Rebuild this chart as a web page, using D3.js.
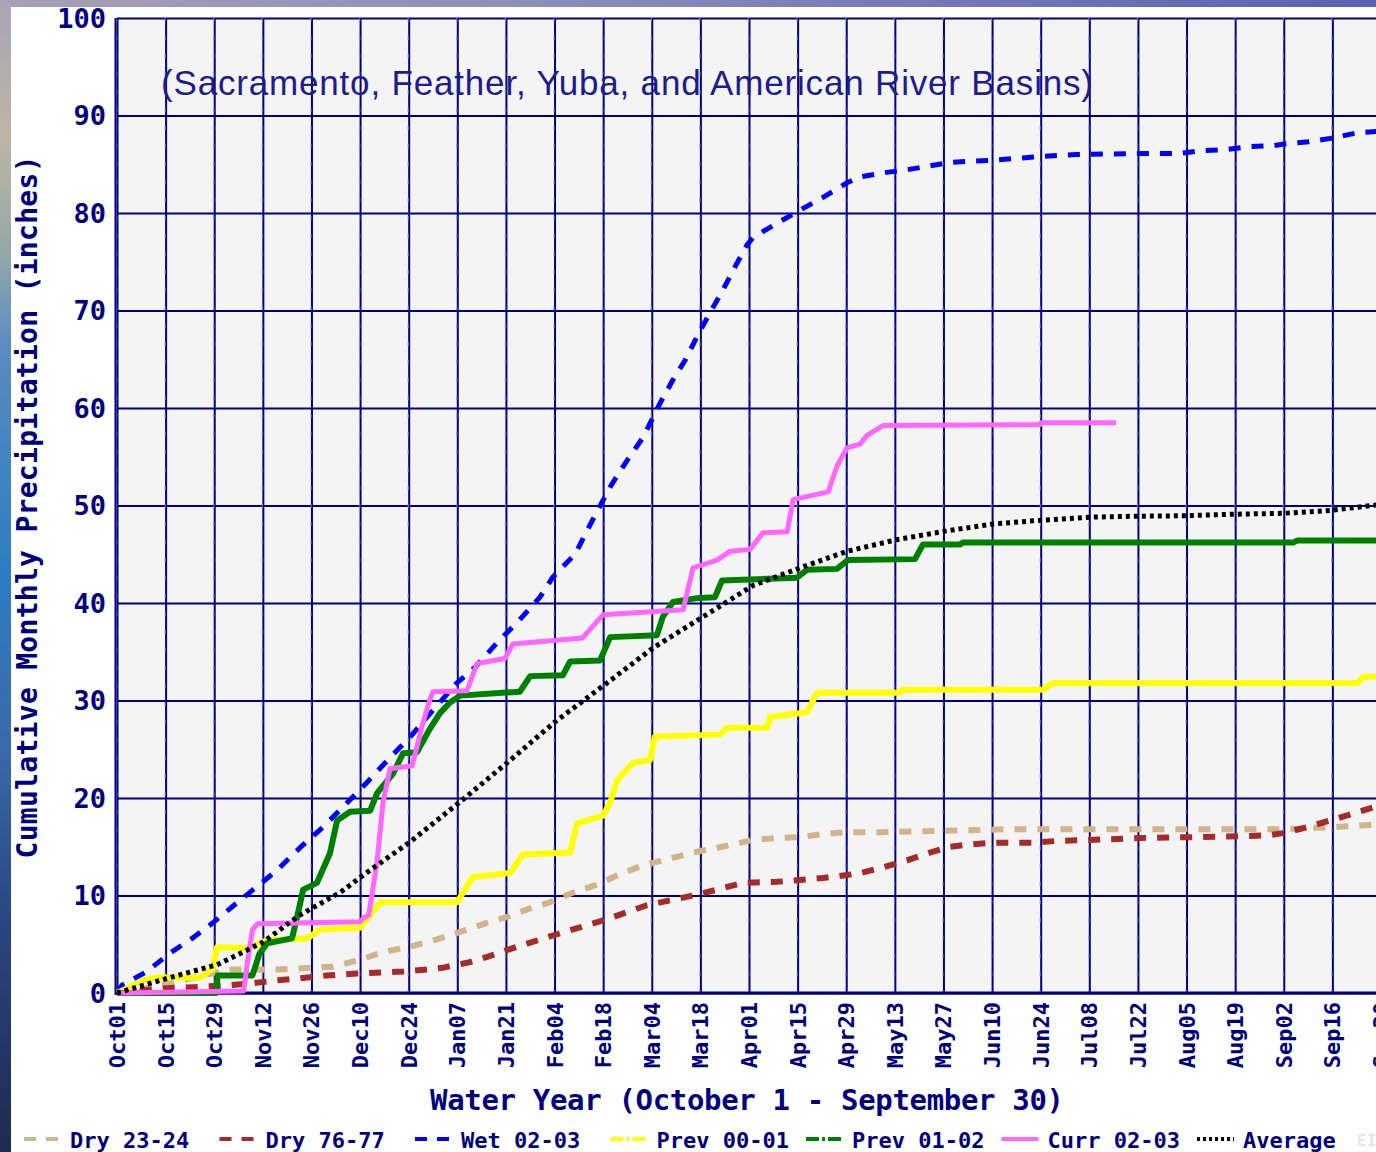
<!DOCTYPE html>
<html>
<head>
  <meta charset="utf-8">
  <style>
    body { margin: 0; background: #fff; }
    text { font-family: "DejaVu Sans Mono", monospace; font-weight: bold; fill: #000080; }
  </style>
</head>
<body>
<svg id="chart" width="1376" height="1152"></svg>
<script src="https://cdn.jsdelivr.net/npm/d3@7"></script>
<script>
// days since Oct 1, cumulative inches
var dryA_days = [0,6,15.3,29.7,33,46.1,62.2,70,76.6,82.4,89.3,93.9,100.8,107.4,112.3,119.8,124.7,131.3,138.2,144.3,151.5,159.3,165.9,172.8,179.4,183.2,190.1,196.7,203.3,210.2,220.6,257.2,335.8,349.3,364];
var dryA_vals = [0,0.3,1,2.2,2.4,2.4,2.7,3.4,4.2,4.6,5.2,5.7,6.5,7.3,7.8,8.8,9.3,10.3,11.1,12.1,13.1,13.8,14.4,14.9,15.4,15.7,15.9,16,16.3,16.5,16.5,16.8,16.8,17,17.3];

var dryB_days = [0,14.4,21.9,32.5,39.2,46.1,52.7,60.5,69.1,82.4,89.3,93.9,100.8,106.6,112.3,126.4,140.5,152.6,159.3,165.9,172.8,180.3,190.1,196.7,203.3,210.2,214,220.6,227.5,234.1,239.9,244.8,251.4,263.8,270.7,288,294.6,311.9,325.4,332,335.8,342.7,349.3,355,364];
var dryB_vals = [0,0.5,0.6,0.8,1,1.3,1.5,1.8,2,2.2,2.4,2.6,3.1,3.7,4.4,6,7.5,9,9.5,10,10.6,11.3,11.4,11.6,11.8,12.1,12.3,12.9,13.6,14.4,15,15.2,15.4,15.4,15.6,15.8,15.9,16,16.1,16.2,16.4,17,17.7,18.3,19.3];

var wet_days = [0,1.4,8.6,15.3,21.6,27.6,32,39.2,46.1,52.7,59.3,65.7,72,78,85,91,97.9,103.1,109.4,116,121.8,125.6,131.9,136.2,142,146.3,151.5,156.4,160.1,163.6,167,170.8,174.2,178,181.4,183.2,190.3,196.7,203.3,210.2,214,220.3,226.9,233.6,239.9,251.4,266.4,276.2,295.5,305.8,312.7,319.4,326,332.9,336.6,343.3,350.2,356.8,364];
var wet_vals = [0,0.8,2.2,4.1,5.6,7.2,8.5,10.6,12.6,14.9,17,19.3,21.6,23.9,26.5,29,31.8,33.4,35.9,38.3,40.6,42.7,45,48,51.9,54.3,57,60.5,62.9,64.9,67.3,69.8,71.9,74.5,76.7,77.5,79,80.3,81.6,83.1,83.7,84.1,84.4,84.8,85.2,85.4,85.8,86,86.1,86.1,86.4,86.5,86.8,86.9,87.1,87.3,87.7,88.2,88.4];

var prev1_days = [0,3,7.5,11.8,24,27.6,28.8,37.4,43.2,54.7,58.5,70,72.9,75.7,97.9,102.5,113.2,116.9,130.5,132.5,140,142,144,148.6,153.5,154.9,173.6,175.7,187.2,188.1,198.7,201.6,225.5,226.1,266.7,269.5,357.3,358.8,364];
var prev1_vals = [0,0.5,1.3,1.6,1.6,2.5,4.7,4.6,5.4,5.6,6.5,6.7,8,9.3,9.3,11.9,12.3,14.2,14.4,17.4,18.2,19.5,21.8,23.6,23.9,26.3,26.5,27.2,27.2,28.3,28.8,30.8,30.8,31.1,31.1,31.8,31.8,32.4,32.5];

var prev2_days = [0,28.5,29,39,41,43.2,50.4,52,53.6,57.6,61.3,63.4,67.1,72.9,74.9,79.5,82.4,86.4,90.1,93,95.9,98.8,116,119,128.4,130.5,139.1,142,155.5,157.2,160.1,167,172.2,174.2,195.8,198.7,207.3,210.5,229.8,232.1,242.8,243.6,338.7,339.8,364];
var prev2_vals = [0,0,1.8,1.8,4,5.1,5.6,8,10.6,11.3,14.3,17.7,18.6,18.7,20.5,22.5,24.6,24.7,27.1,28.7,29.8,30.5,30.9,32.5,32.6,34,34.1,36.5,36.7,38.6,40.1,40.5,40.6,42.3,42.6,43.4,43.5,44.4,44.5,46,46,46.2,46.2,46.4,46.4];

var curr_days = [0,36.5,37.5,39,40.5,70,71,72.5,74.9,76.6,78.6,85,87.8,90,91,100.8,103.7,111.7,114,134,140,163,165.9,172.8,176.5,182.3,186,193,194.7,204.8,207.3,210.2,214,216,220.6,265.8,266,287.7];
var curr_vals = [0,0.2,3,6.5,7.1,7.3,7.7,8,13.5,19.5,23,23.3,27.3,30,30.9,31,33.8,34.3,35.8,36.4,38.8,39.3,43.6,44.4,45.3,45.5,47.2,47.3,50.6,51.4,54,55.9,56.3,57.2,58.2,58.3,58.5,58.5];

var avg_days = [0,14.4,28.8,42,52.7,64.2,72.9,84.4,98.8,112.3,126.1,141.1,154.4,167.9,183.2,196.7,210.2,224.6,239,252.3,266.4,280.2,293.7,307,321.4,335.8,349.3,364];
var avg_vals = [0,1.5,2.9,5.2,8,10.3,12.6,15.5,19.6,23.6,27.8,31.8,35.4,38.4,41.8,43.6,45.3,46.5,47.4,48.1,48.5,48.8,48.9,48.95,49.1,49.2,49.5,50.1];

var seriesNames = ["Dry 23-24", "Dry 76-77", "Wet 02-03", "Prev 00-01", "Prev 01-02", "Curr 02-03", "Average"];
var yTicks = [0,10,20,30,40,50,60,70,80,90,100];

var series = [
  {name: seriesNames[0], days: dryA_days, vals: dryA_vals, color: "#d2b48c", w: 6, dash: "12,11", legDash: "12,10"},
  {name: seriesNames[1], days: dryB_days, vals: dryB_vals, color: "#a52a2a", w: 6, dash: "12,11", legDash: "12,10"},
  {name: seriesNames[2], days: wet_days, vals: wet_vals, color: "#0000ff", w: 5, dash: "12,11", legDash: "12,10"},
  {name: seriesNames[3], days: prev1_days, vals: prev1_vals, color: "#ffff00", w: 6, dash: null, legDash: "13,3,3,3"},
  {name: seriesNames[4], days: prev2_days, vals: prev2_vals, color: "#008000", w: 6, dash: null, legDash: "13,3,3,3"},
  {name: seriesNames[5], days: curr_days, vals: curr_vals, color: "#ff66ff", w: 5, dash: null, legDash: null},
  {name: seriesNames[6], days: avg_days, vals: avg_vals, color: "#000000", w: 5, dash: "4,4", legDash: "3,3"}
];

var svg = d3.select("#chart");
var navy = "#000080";

var start = Date.UTC(2002, 9, 1);
function dayDate(d) { return new Date(start + d * 864e5); }

var x = d3.scaleUtc().domain([dayDate(0), dayDate(364)]).range([117, 1381]);
var y = d3.scaleLinear().domain([0, 100]).range([993, 18]);
var tickDates = d3.range(0, 365, 14).map(dayDate);
var fmt = d3.utcFormat("%b%d");

// background strips
var defs = svg.append("defs");
var gl = defs.append("linearGradient").attr("id", "sea").attr("x1", 0).attr("y1", 0).attr("x2", 0).attr("y2", 1);
[[0, "#a8a4b6"], [0.12, "#bdb4a6"], [0.22, "#93a8a8"], [0.3, "#5a8cc0"], [0.5, "#2e7cc4"], [0.65, "#3a6aa8"], [0.8, "#2a4680"], [1, "#1e2a52"]]
  .forEach(function(s) { gl.append("stop").attr("offset", s[0]).attr("stop-color", s[1]); });
var gt = defs.append("linearGradient").attr("id", "sky");
[[0, "#a8a0b4"], [0.4, "#8c8cbc"], [1, "#5a62b2"]]
  .forEach(function(s) { gt.append("stop").attr("offset", s[0]).attr("stop-color", s[1]); });
svg.append("rect").attr("x", 0).attr("y", 0).attr("width", 1376).attr("height", 7).attr("fill", "url(#sky)");
svg.append("rect").attr("x", 0).attr("y", 0).attr("width", 11).attr("height", 1152).attr("fill", "url(#sea)");

// plot area
svg.append("rect").attr("x", 117).attr("y", 18).attr("width", 1376 - 117).attr("height", 975).attr("fill", "#f4f4f4");

// grid
svg.append("g")
    .attr("transform", "translate(0,993)")
    .call(d3.axisBottom(x).tickValues(tickDates).tickSize(-975).tickFormat(""))
    .call(function(g) {
      g.select(".domain").remove();
      g.selectAll("line").attr("stroke", navy).attr("stroke-width", 2);
    });
svg.append("g")
    .attr("transform", "translate(117,0)")
    .call(d3.axisLeft(y).tickValues(yTicks).tickSize(-1300).tickFormat(""))
    .call(function(g) {
      g.select(".domain").remove();
      g.selectAll("line").attr("stroke", navy).attr("stroke-width", 2);
    });

// faint dashed overlay on verticals
svg.append("g").selectAll("line")
    .data(tickDates)
    .enter().append("line")
      .attr("x1", function(d) { return x(d) - 0.5; })
      .attr("x2", function(d) { return x(d) - 0.5; })
      .attr("y1", 18).attr("y2", 993)
      .attr("stroke", "#8c8cd0").attr("stroke-opacity", 0.6)
      .attr("stroke-width", 1.5).attr("stroke-dasharray", "4,14");

// frame
svg.append("line").attr("x1", 115.5).attr("x2", 115.5).attr("y1", 18).attr("y2", 995).attr("stroke", navy).attr("stroke-width", 2);
svg.append("line").attr("x1", 115).attr("x2", 1376).attr("y1", 993).attr("y2", 993).attr("stroke", navy).attr("stroke-width", 3);

// title inside plot
svg.append("text")
    .attr("x", 161).attr("y", 95)
    .attr("textLength", 932).attr("lengthAdjust", "spacing")
    .style("font-family", "'Liberation Sans', Arial, sans-serif")
    .style("font-weight", "normal")
    .style("font-size", "35px")
    .style("fill", "#1c1c8e")
    .text("(Sacramento, Feather, Yuba, and American River Basins)");

// series
var line = d3.line()
    .x(function(p) { return x(dayDate(p[0])); })
    .y(function(p) { return y(p[1]); });

series.forEach(function(s) {
  var pts = s.days.map(function(d, i) { return [d, s.vals[i]]; });
  svg.append("path")
      .datum(pts)
      .attr("d", line)
      .attr("fill", "none")
      .attr("stroke", s.color)
      .attr("stroke-width", s.w)
      .attr("stroke-dasharray", s.dash)
      .attr("stroke-linejoin", "round");
});

// y tick labels
svg.append("g").selectAll("text")
    .data(yTicks)
    .enter().append("text")
      .attr("x", 106)
      .attr("y", function(d) { return y(d); })
      .attr("dy", "0.36em")
      .attr("text-anchor", "end")
      .style("font-size", "27px")
      .text(function(d) { return d; });

// x tick labels
svg.append("g").selectAll("text")
    .data(tickDates)
    .enter().append("text")
      .attr("transform", function(d) { return "translate(" + (x(d) + 8) + ",1002) rotate(-90)"; })
      .attr("text-anchor", "end")
      .style("font-size", "22px")
      .text(function(d) { return fmt(d); });

// axis titles
svg.append("text")
    .attr("transform", "translate(37,507) rotate(-90)")
    .attr("text-anchor", "middle")
    .attr("textLength", 703).attr("lengthAdjust", "spacing")
    .style("font-size", "28px")
    .text("Cumulative Monthly Precipitation (inches)");

svg.append("text")
    .attr("x", 430).attr("y", 1110)
    .attr("textLength", 634).attr("lengthAdjust", "spacing")
    .style("font-size", "29px")
    .text("Water Year (October 1 - September 30)");

// legend
var legend = svg.append("g").selectAll("g")
    .data(series)
    .enter().append("g")
      .attr("transform", function(d, i) { return "translate(" + (24 + i * 195.5) + ",1139)"; });

legend.append("line")
    .attr("x1", 0).attr("x2", 37)
    .attr("stroke", function(d) { return d.color; })
    .attr("stroke-width", 4)
    .attr("stroke-dasharray", function(d) { return d.legDash; });

legend.append("text")
    .attr("x", 46).attr("y", 9)
    .style("font-size", "22px")
    .text(function(d) { return d.name; });

svg.append("text")
    .attr("x", 1357).attr("y", 1146)
    .style("font-size", "16px")
    .style("fill", "#e6e6e6")
    .text("EIL");
</script>
</body>
</html>
